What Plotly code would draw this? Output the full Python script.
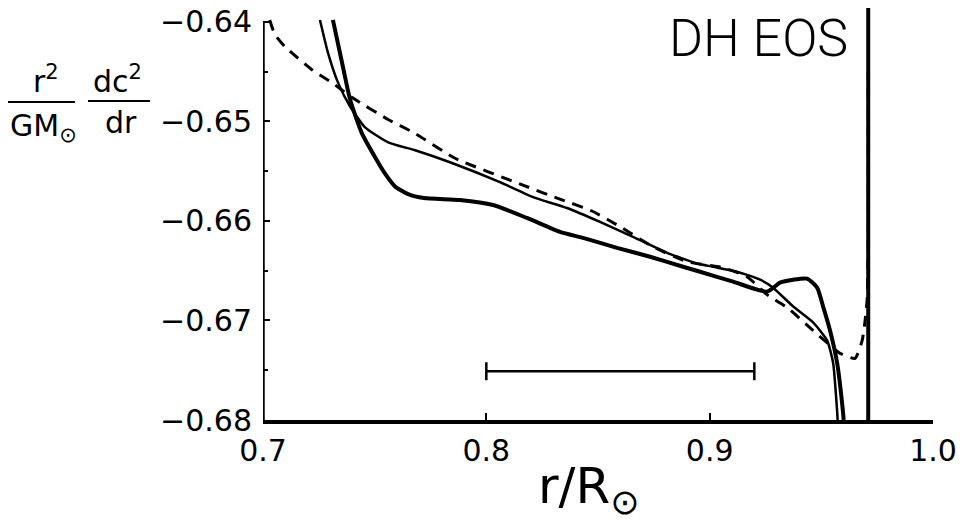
import plotly.graph_objects as go

# ---- data ----
dashed_x = [0.703, 0.7054, 0.7099, 0.7219, 0.7309, 0.7399, 0.756, 0.7681, 0.786, 0.8164,
            0.8317, 0.8473, 0.8608, 0.8747, 0.8899, 0.906, 0.9167, 0.9257, 0.9347, 0.9463,
            0.9584, 0.9651, 0.9683, 0.9696, 0.9705, 0.971, 0.971]
dashed_y = [-0.6398, -0.6413, -0.6425, -0.6448, -0.6461, -0.6476, -0.6498, -0.6512, -0.6537, -0.6564,
            -0.6577, -0.659, -0.6607, -0.6626, -0.6641, -0.6647, -0.6656, -0.6674, -0.6687, -0.671,
            -0.6733, -0.6738, -0.672, -0.670, -0.6679, -0.663, -0.645]

smooth_x = [0.7255, 0.7291, 0.7336, 0.739, 0.7457, 0.756, 0.7681, 0.7837, 0.8061, 0.8209,
            0.8361, 0.8509, 0.8657, 0.8809, 0.8948, 0.9015, 0.9136, 0.9226, 0.9284, 0.9374,
            0.9463, 0.9526, 0.9553, 0.9571, 0.9573]
smooth_y = [-0.6398, -0.6431, -0.6461, -0.6485, -0.6506, -0.6521, -0.6529, -0.6541, -0.6561, -0.6576,
            -0.6587, -0.6601, -0.6616, -0.6632, -0.6643, -0.6646, -0.6652, -0.6659, -0.6667, -0.6686,
            -0.6702, -0.672, -0.6743, -0.6792, -0.68]

jag_x = [0.7313, 0.7354, 0.739, 0.7443, 0.7502, 0.7545, 0.7590, 0.7650, 0.7720, 0.7882,
         0.803, 0.8182, 0.833, 0.8433, 0.8585, 0.8733, 0.8881, 0.8957, 0.9105, 0.9257,
         0.9315, 0.9374, 0.9436, 0.9481, 0.9508, 0.9539, 0.9571, 0.9597, 0.96]
jag_y = [-0.6398, -0.6441, -0.6478, -0.6512, -0.6536, -0.6552, -0.6565, -0.6573, -0.6577, -0.6579,
         -0.6584, -0.6597, -0.6611, -0.6617, -0.6627, -0.6636, -0.6646, -0.6651, -0.6661, -0.6671,
         -0.6662, -0.6659, -0.6658, -0.6667, -0.6686, -0.671, -0.6743, -0.6792, -0.68]

spike_x = [0.971, 0.971]
spike_y = [-0.68, -0.6386]

bar_center_x = [0.86]
bar_center_y = [-0.6751]
bar_half_width = [0.06]

x_ticks = [0.7, 0.8, 0.9, 1.0]
x_ticktext = ["0.7", "0.8", "0.9", "1.0"]
y_ticks = [-0.68, -0.67, -0.66, -0.65, -0.64]

W, H = 967, 524
ML, MR, MT, MB = 263, 34, 8, 104
PW, PH = W - ML - MR, H - MT - MB


def px(xp):
    # window pixel -> paper coordinate
    return (xp - ML) / PW


def py(yp):
    return (H - MB - yp) / PH


FONT = "DejaVu Sans"

fig = go.Figure()
fig.add_trace(go.Scatter(x=dashed_x, y=dashed_y, mode="lines",
                         line=dict(color="black", width=3, dash="11px,8px", shape="spline", smoothing=0.5),
                         hoverinfo="skip"))
fig.add_trace(go.Scatter(x=smooth_x, y=smooth_y, mode="lines",
                         line=dict(color="black", width=2.5, shape="spline", smoothing=0.5),
                         hoverinfo="skip"))
fig.add_trace(go.Scatter(x=jag_x, y=jag_y, mode="lines",
                         line=dict(color="black", width=4, shape="spline", smoothing=0.6),
                         hoverinfo="skip"))
fig.add_trace(go.Scatter(x=spike_x, y=spike_y, mode="lines",
                         line=dict(color="black", width=4), hoverinfo="skip"))
fig.add_trace(go.Scatter(x=bar_center_x, y=bar_center_y, mode="markers",
                         marker=dict(size=1, color="rgba(0,0,0,0)"),
                         error_x=dict(type="data", array=bar_half_width, color="black",
                                      thickness=2.5, width=9),
                         hoverinfo="skip"))

fig.update_layout(
    width=W, height=H,
    margin=dict(l=ML, r=MR, t=MT, b=MB, autoexpand=False),
    paper_bgcolor="white", plot_bgcolor="white",
    showlegend=False,
    font=dict(family=FONT, color="black"),
    xaxis=dict(range=[0.7, 1.0], tickvals=x_ticks, ticktext=x_ticktext,
               ticks="inside", ticklen=7, tickwidth=2, tickcolor="black",
               showline=True, linewidth=4, linecolor="black",
               showgrid=False, zeroline=False, automargin=False,
               ticklabeloverflow="allow",
               tickfont=dict(size=30, family=FONT), ticklabelstandoff=1),
    yaxis=dict(range=[-0.68, -0.6386], tickvals=y_ticks, tickformat=".2f",
               ticks="inside", ticklen=7, tickwidth=2, tickcolor="black",
               minor=dict(tickvals=[-0.675, -0.665, -0.655, -0.645], ticks="inside",
                          ticklen=5, tickwidth=2, tickcolor="black"),
               showline=False, showgrid=False, zeroline=False, automargin=False,
               ticklabeloverflow="allow",
               tickfont=dict(size=30, family=FONT), ticklabelstandoff=10),
)

# y-axis line only up to -0.64
fig.add_shape(type="line", xref="x", yref="y", x0=0.7, x1=0.7, y0=-0.68, y1=-0.64,
              line=dict(color="black", width=3.5))

ann = [
    dict(text="DH EOS", x=px(850), y=py(39), xanchor="right", yanchor="middle",
         font=dict(size=52, family="Roboto", weight=300)),
    dict(text="r/R<sub>⊙</sub>", x=px(588), y=py(489), xanchor="center", yanchor="middle",
         font=dict(size=50, family=FONT)),
    dict(text="r<sup>2</sup>", x=px(46), y=py(79), xanchor="center", yanchor="middle",
         font=dict(size=30, family=FONT)),
    dict(text="GM<sub>⊙</sub>", x=px(43), y=py(127), xanchor="center", yanchor="middle",
         font=dict(size=30, family=FONT)),
    dict(text="dc<sup>2</sup>", x=px(117), y=py(79), xanchor="center", yanchor="middle",
         font=dict(size=30, family=FONT)),
    dict(text="dr", x=px(121), y=py(122), xanchor="center", yanchor="middle",
         font=dict(size=30, family=FONT)),
]
for a in ann:
    a.update(xref="paper", yref="paper", showarrow=False)
    fig.add_annotation(**a)

fig.add_shape(type="line", xref="paper", yref="paper", x0=px(8), x1=px(75), y0=py(102), y1=py(102),
              line=dict(color="black", width=2))
fig.add_shape(type="line", xref="paper", yref="paper", x0=px(88), x1=px(150), y0=py(101), y1=py(101),
              line=dict(color="black", width=2))

fig.write_html("out.html", config={"displayModeBar": False},
               post_script="document.body.style.margin='0';")
